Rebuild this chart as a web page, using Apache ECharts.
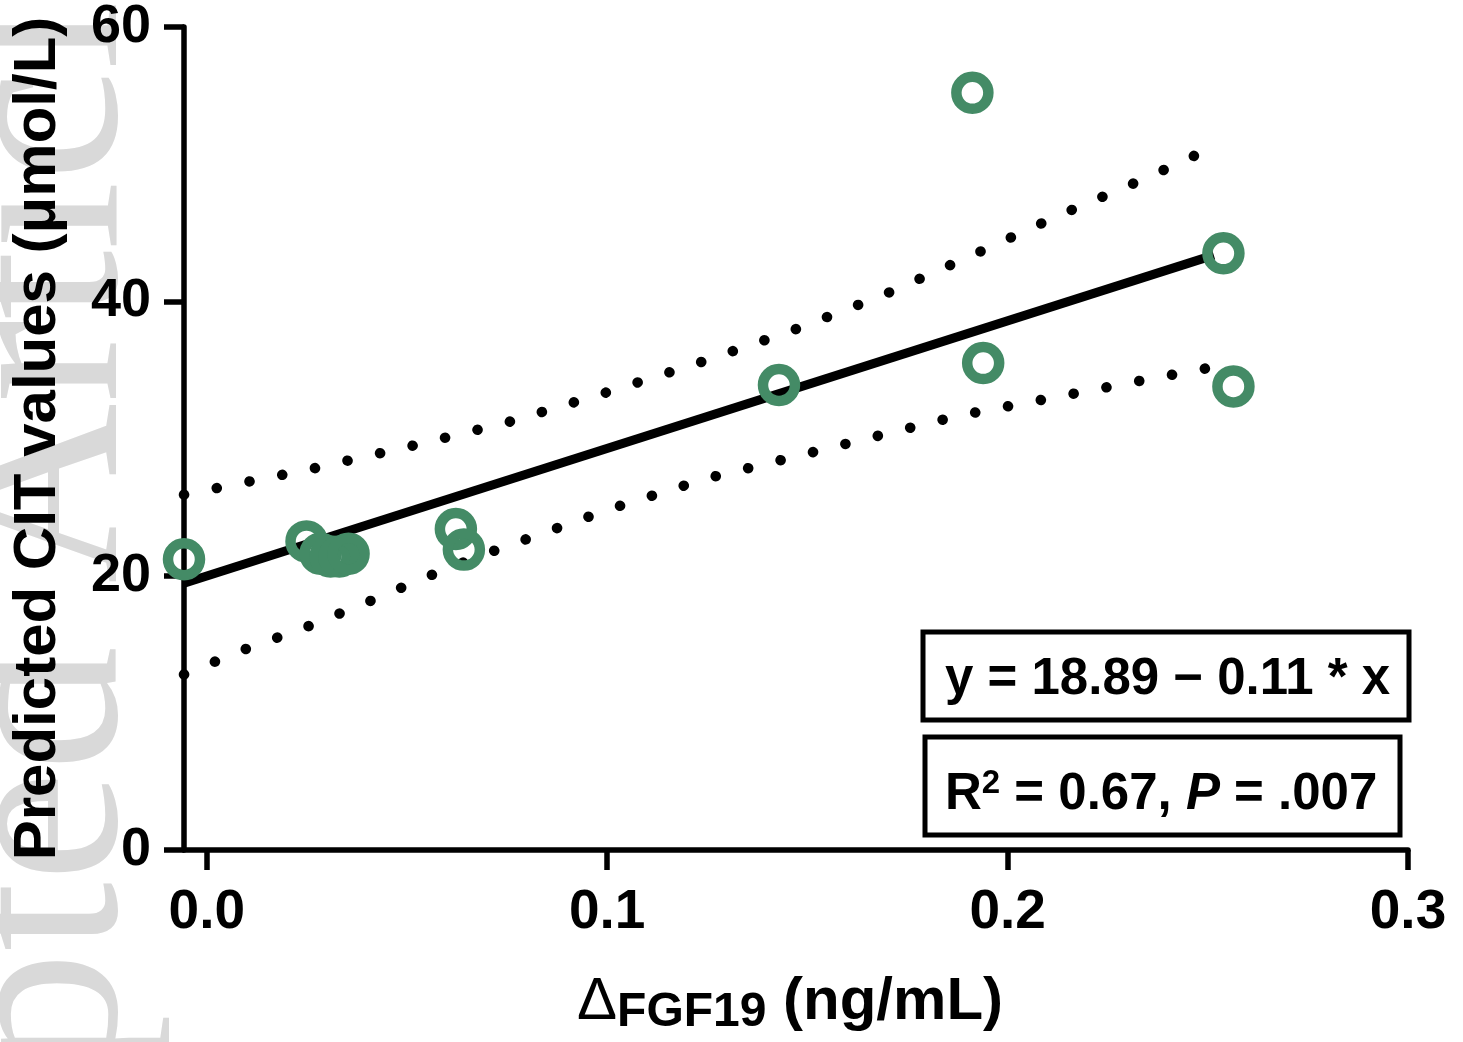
<!DOCTYPE html>
<html><head><meta charset="utf-8">
<script src="https://cdn.jsdelivr.net/npm/echarts@6/dist/echarts.min.js"></script>
<style>html,body{margin:0;padding:0;background:#fff}#c{width:1463px;height:1042px}</style>
</head><body><div id="c"></div>
<script>
// ---- data ----
const xVals = [-0.0057, 0.0249, 0.0284, 0.0309, 0.0331, 0.0354, 0.0622, 0.0642, 0.1429, 0.1912, 0.1939, 0.2539, 0.2564];
const yVals = [21.2, 22.5, 21.6, 21.4, 21.4, 21.6, 23.4, 21.9, 33.9, 55.2, 35.5, 43.5, 33.8];
const fitX = [-0.0057, 0.2515];
const fitY = [19.45, 43.37];
const upperX = [-0.0057, 0.0027, 0.0264, 0.0503, 0.0742, 0.0981, 0.1217, 0.1456, 0.1685, 0.1907, 0.2131, 0.2355, 0.2509];
const upperY = [25.9, 26.4, 27.8, 29.4, 31.1, 33.2, 35.4, 37.8, 40.4, 43.3, 46.3, 49.1, 51.2];
const lowerX = [-0.0057, 0.0092, 0.0244, 0.0396, 0.0548, 0.0697, 0.1011, 0.125, 0.1486, 0.1718, 0.1884, 0.2046, 0.2206, 0.2365, 0.2512];
const lowerY = [12.8, 14.6, 16.2, 18.0, 19.9, 21.6, 24.9, 27.1, 28.8, 30.5, 31.7, 32.6, 33.5, 34.4, 35.2];
const xTicks = [0, 0.1, 0.2, 0.3];
const xMin = -0.0057, xMax = 0.3;
const yMin = 0, yMax = 60, yStep = 20;
const yTitle = 'Predicted CIT values (μmol/L)';
const eqText = 'y = 18.89 − 0.11 * x';
const r2Text = ' = 0.67, ';
const pText = ' = .007';
const watermark = 'Accepted Article';

const zip = (a, b) => a.map((v, i) => [v, b[i]]);
const FONT = '"Liberation Sans", Arial, sans-serif';
const GREEN = '#448b66';

const chart = echarts.init(document.getElementById('c'), null, {renderer: 'canvas'});
chart.setOption({
  animation: false,
  backgroundColor: '#fff',
  grid: {left: 180, right: 55, top: 27, bottom: 192, containLabel: false},
  xAxis: {
    type: 'value', min: xMin, max: xMax,
    splitLine: {show: false},
    axisLine: {show: true, onZero: false, lineStyle: {color: '#000', width: 5.5}},
    axisTick: {show: true, customValues: xTicks, length: 20, lineStyle: {color: '#000', width: 5.5}},
    axisLabel: {show: true, customValues: xTicks, formatter: v => v.toFixed(1), margin: 35,
      color: '#000', fontSize: 55, fontWeight: 'bold', fontFamily: FONT},
    name: '{d|Δ}{s|FGF19}{n| (ng/mL)}',
    nameLocation: 'middle', nameGap: 117,
    nameTextStyle: {
      padding: [0, 12, 0, 0],
      rich: {
        d: {fontSize: 60, fontWeight: 'normal', fontFamily: FONT, color: '#000', lineHeight: 70, verticalAlign: 'middle'},
        s: {fontSize: 48, fontWeight: 'bold', fontFamily: FONT, color: '#000', lineHeight: 30, verticalAlign: 'bottom'},
        n: {fontSize: 60, fontWeight: 'bold', fontFamily: FONT, color: '#000', lineHeight: 70, verticalAlign: 'middle'}
      }
    }
  },
  yAxis: {
    type: 'value', min: yMin, max: yMax, interval: yStep,
    splitLine: {show: false},
    axisLine: {show: true, onZero: false, lineStyle: {color: '#000', width: 5.5}},
    axisTick: {show: true, length: 20, lineStyle: {color: '#000', width: 5.5}},
    axisLabel: {margin: 33, color: '#000', fontSize: 54, fontWeight: 'bold', fontFamily: FONT, padding: [12, 0, 0, 0]},
    name: yTitle, nameLocation: 'middle', nameGap: 116,
    nameTextStyle: {fontSize: 60, fontWeight: 'bold', fontFamily: FONT, color: '#000'}
  },
  series: [
    {type: 'line', data: zip(upperX, upperY), symbol: 'none', z: 3, silent: true,
      lineStyle: {color: '#000', width: 10.5, type: [0.1, 33.3], cap: 'round'}},
    {type: 'line', data: zip(lowerX, lowerY), symbol: 'none', z: 3, silent: true,
      lineStyle: {color: '#000', width: 10.5, type: [0.1, 33.3], cap: 'round'}},
    {type: 'line', data: zip(fitX, fitY), symbol: 'none', z: 4, silent: true,
      lineStyle: {color: '#000', width: 9, cap: 'butt'}},
    {type: 'scatter', data: zip(xVals, yVals), symbol: 'circle', symbolSize: 32, z: 5, clip: false,
      itemStyle: {color: 'rgba(0,0,0,0)', borderColor: GREEN, borderWidth: 10.5, opacity: 1}}
  ],
  graphic: [
    {type: 'text', x: 50, y: 1590, rotation: Math.PI / 2, z: -100, silent: true,
      style: {text: watermark, font: '250px "Liberation Serif", "Times New Roman", serif', fill: '#d9d9d9',
        align: 'left', verticalAlign: 'middle', textAlign: 'left', textVerticalAlign: 'middle'}},
    {type: 'rect', z: 100, shape: {x: 923, y: 632, width: 486, height: 88},
      style: {fill: '#fff', stroke: '#000', lineWidth: 5}},
    {type: 'text', z: 101, x: 945, y: 680,
      style: {text: eqText, font: 'bold 51px ' + FONT, fill: '#000', verticalAlign: 'middle', textVerticalAlign: 'middle'}},
    {type: 'rect', z: 100, shape: {x: 925, y: 737, width: 475, height: 98},
      style: {fill: '#fff', stroke: '#000', lineWidth: 5}},
    {type: 'text', z: 101, x: 945, y: 795,
      style: {
        text: '{n|R}{sup|2}{n|' + r2Text + '}{it|P}{n|' + pText + '}',
        verticalAlign: 'middle', textVerticalAlign: 'middle',
        rich: {
          n: {fontSize: 51, fontWeight: 'bold', fontFamily: FONT, fill: '#000', lineHeight: 56, verticalAlign: 'middle'},
          sup: {fontSize: 33, fontWeight: 'bold', fontFamily: FONT, fill: '#000', lineHeight: 32, verticalAlign: 'top'},
          it: {fontSize: 51, fontWeight: 'bold', fontStyle: 'italic', fontFamily: FONT, fill: '#000', lineHeight: 56, verticalAlign: 'middle'}
        }
      }}
  ]
});
</script>
</body></html>
